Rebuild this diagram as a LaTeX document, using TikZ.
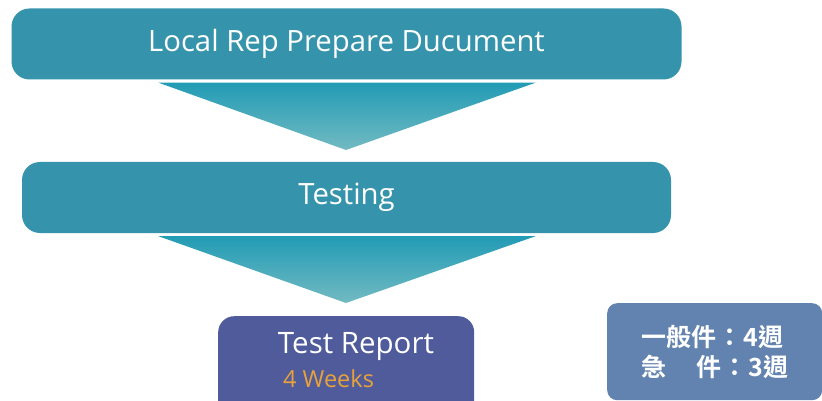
\documentclass[tikz,border=0pt]{standalone}
\usepackage{fontspec}
\setmainfont{Open Sans}
\newfontfamily\cjk{Noto Sans CJK TC}[BoldFont={Noto Sans CJK TC Bold}]
\usetikzlibrary{positioning}
\definecolor{stageteal}{HTML}{3593AB}
\definecolor{funneltop}{HTML}{1E9AB4}
\definecolor{funnelbottom}{HTML}{72BAC2}
\definecolor{reportblue}{HTML}{4F5B9B}
\definecolor{noteblue}{HTML}{6283B0}
\definecolor{weeksorange}{HTML}{E9A23B}
\tikzset{stagebox/.style={fill=stageteal,rounded corners=18pt,text=white,
        minimum height=71pt,inner sep=0,font=\fontsize{29.3}{32}\selectfont},
    reportbox/.style={fill=reportblue,rounded corners=16pt,minimum width=256pt,
        minimum height=110pt,inner sep=0},
    notebox/.style={fill=noteblue,rounded corners=10pt,minimum width=215pt,
        minimum height=97pt,inner sep=0,text=white,align=left,
        font=\cjk\bfseries\fontsize{25}{30}\selectfont},
    funnel/.style={top color=funneltop,bottom color=funnelbottom}
}

\begin{document}
\begin{tikzpicture}[x=1pt,y=-1pt]
\useasboundingbox (0,0) rectangle (822,401);

\node (prepare) [stagebox,minimum width=670pt] at (346.5,44) {Local Rep Prepare Ducument};
\node (testing) [stagebox,minimum width=649pt] at (346.5,197.5) {Testing};
\node (report) [reportbox,anchor=north west] at (218,316) {};
\node (notes) [notebox,anchor=north west] at (607,303)
    {一般件\hspace{1pt}：\hspace{1pt}4週\\急\hspace{1.2em}件\hspace{1pt}：\hspace{1pt}3週};

% arrows between stages
\shade [funnel] (prepare.south) ++(-188,3) -- ++(377,0) -- (346,150) -- cycle;
\shade [funnel] (testing.south) ++(-188,3) -- ++(377,0) -- (346,303) -- cycle;

\node (reporttitle) [text=white,font=\fontsize{29.5}{32}\selectfont,inner sep=0,anchor=base]
    at (356,353) {Test Report};
\node (reportweeks) [text=weeksorange,font=\fontsize{23.5}{26}\selectfont,inner sep=0,anchor=base west]
    at (283,387) {4 Weeks};

\end{tikzpicture}
\end{document}
